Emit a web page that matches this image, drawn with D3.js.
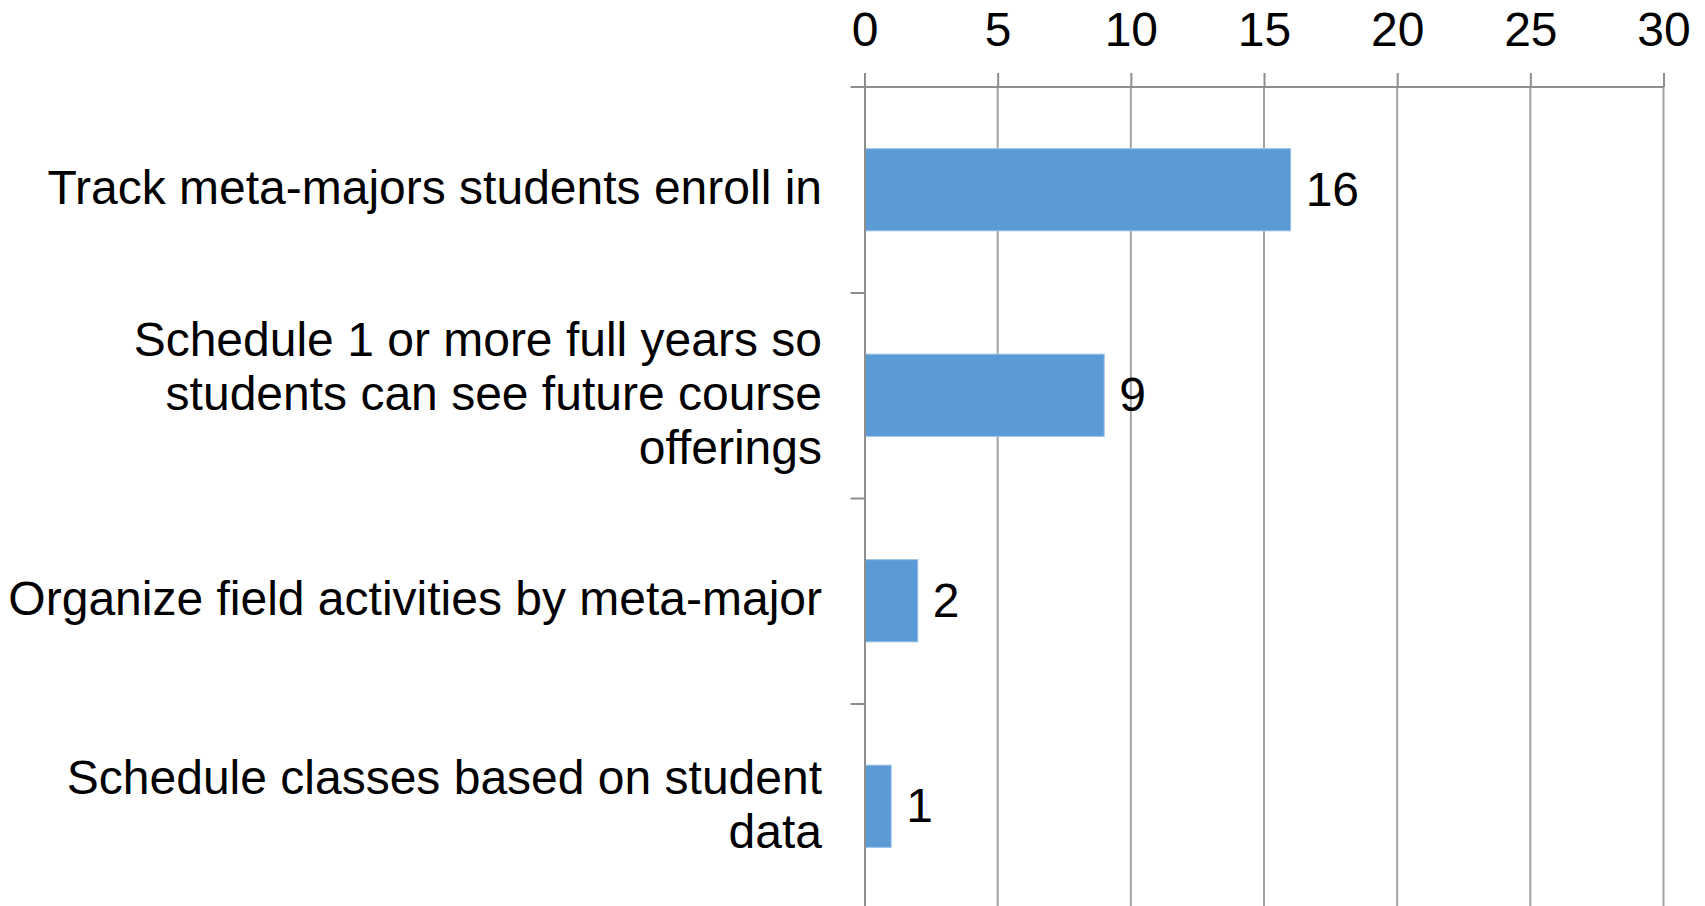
<!DOCTYPE html>
<html>
<head>
<meta charset="utf-8">
<script src="https://cdn.jsdelivr.net/npm/d3@7"></script>
<style>
  html, body { margin: 0; padding: 0; background: #ffffff; }
  svg { display: block; }
  text { font-family: "Liberation Sans", Arial, sans-serif; fill: #000000; }
</style>
</head>
<body>
<svg id="chart" width="1705" height="906"></svg>
<script>
// Category labels (line breaks mark where each label wraps)
const categories = [
  "Track meta-majors students enroll in",
  "Schedule 1 or more full years so\nstudents can see future course\nofferings",
  "Organize field activities by meta-major",
  "Schedule classes based on student\ndata"
];
const values = [16, 9, 2, 1];
const xTicks = [0, 5, 10, 15, 20, 25, 30];

const svg = d3.select("#chart");
const plotLeft = 864.5, plotRight = 1663.5, plotTop = 87, plotBottom = 909;
const fontSize = 48;

const x = d3.scaleLinear().domain([0, 30]).range([plotLeft, plotRight]);
const y = d3.scaleBand().domain(categories).range([plotTop, plotBottom])
  .paddingInner(0.6).paddingOuter(0.3);
// boundaries between category bands
const yEdge = d3.scaleLinear().domain([0, categories.length]).range([plotTop, plotBottom]);

const gridColor = "#a3a3a3";
const axisColor = "#8e8e8e";

// vertical gridlines
svg.append("g")
  .selectAll("line")
  .data(xTicks.filter(d => d > 0))
  .join("line")
  .attr("x1", d => x(d)).attr("x2", d => x(d))
  .attr("y1", plotTop).attr("y2", plotBottom)
  .attr("stroke", gridColor).attr("stroke-width", 2);

// bars
svg.append("g")
  .selectAll("rect")
  .data(values)
  .join("rect")
  .attr("x", x(0))
  .attr("y", (d, i) => y(categories[i]))
  .attr("width", d => x(d) - x(0))
  .attr("height", y.bandwidth())
  .attr("fill", "#5b9bd5")
  .attr("stroke", "#9cc0e6")
  .attr("stroke-width", 1);

// x axis along the top
const xAxis = svg.append("g")
  .attr("transform", `translate(0,${plotTop})`)
  .call(d3.axisTop(x).tickValues(xTicks).tickSize(14).tickSizeOuter(0).tickFormat(d3.format("d")));
xAxis.select(".domain").attr("stroke", axisColor).attr("stroke-width", 2)
  .attr("d", `M${plotLeft - 14},0H${plotRight}`);
xAxis.selectAll(".tick line").attr("stroke", axisColor).attr("stroke-width", 2);
xAxis.selectAll(".tick text")
  .attr("y", -41).attr("dy", 0)
  .attr("font-size", fontSize)
  .style("font-family", '"Liberation Sans", Arial, sans-serif')
  .attr("fill", "#000");

// y axis with ticks at band boundaries
const yAxis = svg.append("g")
  .attr("transform", `translate(${plotLeft},0)`)
  .call(d3.axisLeft(yEdge).tickValues(d3.range(1, categories.length + 1)).tickSize(14).tickSizeOuter(0).tickFormat(""));
yAxis.select(".domain").attr("stroke", axisColor).attr("stroke-width", 2);
yAxis.selectAll(".tick line").attr("stroke", axisColor).attr("stroke-width", 2);

// category labels, right aligned and vertically centred on each band
const lineH = 54;
svg.append("g")
  .selectAll("text")
  .data(categories)
  .join("text")
  .attr("text-anchor", "end")
  .attr("font-size", fontSize)
  .each(function(d) {
    const lines = d.split("\n");
    const cy = y(d) + y.bandwidth() / 2;
    const y0 = cy - (lines.length - 1) * lineH / 2;
    d3.select(this).selectAll("tspan")
      .data(lines)
      .join("tspan")
      .attr("x", 822)
      .attr("y", (l, i) => y0 + i * lineH)
      .attr("dy", "0.3em")
      .text(l => l);
  });

// value labels
svg.append("g")
  .selectAll("text")
  .data(values)
  .join("text")
  .attr("x", d => x(d) + 15)
  .attr("y", (d, i) => y(categories[i]) + y.bandwidth() / 2)
  .attr("dy", "0.33em")
  .attr("font-size", fontSize)
  .text(d => d);
</script>
</body>
</html>
